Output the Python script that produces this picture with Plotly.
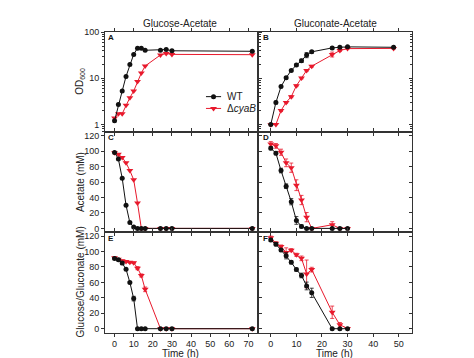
import plotly.graph_objects as go

# ---------------- data ----------------
t_glc = [0, 2, 4, 6, 8, 10, 12, 14, 16, 24, 27, 30, 72]
od_glc_wt = [1.2, 2.7, 5.3, 11, 20, 33, 45, 45, 40.5, 40.5, 42, 39.5, 38.5]
od_glc_cya = [1.38, 1.71, 1.71, 2.6, 3.8, 5.3, 8.5, 13, 18.5, 32, 34.5, 33, 32.5]
ac_glc_wt = [98.5, 90, 65, 30, 7.5, 1.8, 0, 0, 0, 0, 0, 0, 0]
ac_glc_cya = [98, 96, 92, 85, 75, 63, 33, 0, 0, 0, 0, 0, 0]
glc_wt = [91, 89.5, 85, 77, 60, 39, 0, 0, 0, 0, 0, 0, 0]
glc_wt_err = [1, 1, 2, 1, 1, 3, 0, 0, 0, 0, 0, 0, 0]
glc_cya = [92, 90, 88, 87, 86, 85.5, 78.5, 69, 51, 0, 0, 0, 0]
glc_cya_err = [1, 1, 1, 1, 1, 1, 2, 2, 3, 0, 0, 0, 0]

t_gcn = [0, 2, 4, 6, 8, 10, 12, 14, 16, 24, 27, 30, 48]
od_gcn_wt = [1.0, 3.0, 6.6, 10.3, 14.8, 19.4, 24, 32, 37.5, 45.6, 47, 48, 47]
od_gcn_wt_err = [0, 0.2, 0.3, 0.5, 0.6, 1, 2, 4, 2, 2, 1, 1, 1]
od_gcn_cya = [0.98, 1.0, 2.0, 3.0, 4.0, 6.9, 10.1, 14.8, 18.3, 33, 40, 44, 44.5]
od_gcn_cya_err = [0, 0, 0.1, 0.1, 0.2, 0.3, 0.4, 0.6, 0.8, 4, 2, 1, 1]

t_gcn2 = [0, 2, 4, 6, 8, 10, 12, 14, 16, 24, 27, 30]
ac_gcn_wt = [104, 97.5, 75, 54.7, 34.6, 10.3, 2.6, 0, 0, 0, 0, 0]
ac_gcn_wt_err = [2, 2, 3, 3, 4, 5, 2, 0, 0, 0, 0, 0]
ac_gcn_cya = [109.5, 107, 98.7, 85, 78.7, 56, 36.8, 14.6, 0, 4.7, 0, 0]
ac_gcn_cya_err = [3, 3, 4, 5, 6, 7, 6, 6, 0, 4, 0, 0]
gcn_wt = [115, 109.5, 102, 94.5, 86, 76.6, 69, 55.4, 46.5, 0, 0, 0]
gcn_wt_err = [2, 2, 2, 4, 2, 2, 3, 5, 6, 0, 0, 0]
gcn_cya = [118, 110.7, 106.5, 98.8, 101.8, 95.8, 91.2, 71, 76.6, 21.3, 5, 0.4]
gcn_cya_err = [2, 2, 2, 6, 2, 2, 3, 18, 3, 8, 3, 0]

titles = ["Glucose-Acetate", "Gluconate-Acetate"]
ytitles = ["OD<sub>600</sub>", "Acetate (mM)", "Glucose/Gluconate (mM)"]
panel_letters = ["A", "B", "C", "D", "E", "F"]
legend_names = ["WT", "Δ<i>cyaB</i>"]
lin_ticks = [0, 20, 40, 60, 80, 100, 120]

BLACK = "#111111"
RED = "#e8192c"
FONT = "Liberation Sans, Arial, sans-serif"
W, H = 474, 358

fig = go.Figure()


def add(xs, ys, err, n, color, symbol, size):
    ax = "" if n == 1 else str(n)
    eb = None
    if err is not None:
        eb = dict(type="data", array=err, visible=True, color=color,
                  thickness=0.8, width=2)
    fig.add_trace(go.Scatter(
        x=xs, y=ys, mode="lines+markers", showlegend=False,
        line=dict(color=color, width=1),
        marker=dict(color=color, symbol=symbol, size=size),
        error_y=eb, xaxis="x" + ax, yaxis="y" + ax))


add(t_glc, od_glc_cya, None, 1, RED, "triangle-down", 6)
add(t_glc, od_glc_wt, None, 1, BLACK, "circle", 5)
add(t_gcn, od_gcn_cya, od_gcn_cya_err, 2, RED, "triangle-down", 6)
add(t_gcn, od_gcn_wt, od_gcn_wt_err, 2, BLACK, "circle", 5)
add(t_glc, ac_glc_cya, None, 3, RED, "triangle-down", 6)
add(t_glc, ac_glc_wt, None, 3, BLACK, "circle", 5)
add(t_gcn2, ac_gcn_cya, ac_gcn_cya_err, 4, RED, "triangle-down", 6)
add(t_gcn2, ac_gcn_wt, ac_gcn_wt_err, 4, BLACK, "circle", 5)
add(t_glc, glc_cya, glc_cya_err, 5, RED, "triangle-down", 6)
add(t_glc, glc_wt, glc_wt_err, 5, BLACK, "circle", 5)
add(t_gcn2, gcn_cya, gcn_cya_err, 6, RED, "triangle-down", 6)
add(t_gcn2, gcn_wt, gcn_wt_err, 6, BLACK, "circle", 5)

# compact in-panel legend (panel A data coordinates)
leg_x = [47.8, 55.7]
leg_y = [4.0, 2.22]
leg_col = [BLACK, RED]
leg_sym = ["circle", "triangle-down"]
leg_size = [5, 6]
for i in range(2):
    fig.add_trace(go.Scatter(x=leg_x, y=[leg_y[i], leg_y[i]], mode="lines",
                             line=dict(color=leg_col[i], width=1), showlegend=False,
                             hoverinfo="skip", xaxis="x", yaxis="y"))
    fig.add_trace(go.Scatter(x=[(leg_x[0] + leg_x[1]) / 2], y=[leg_y[i]],
                             mode="markers",
                             marker=dict(color=leg_col[i], symbol=leg_sym[i],
                                         size=leg_size[i]),
                             showlegend=False, hoverinfo="skip",
                             xaxis="x", yaxis="y"))

xdom = [[97 / W, 250 / W], [250 / W, 403.5 / W]]
ydom = [[1 - 121 / H, 1 - 19.5 / H], [1 - 223 / H, 1 - 121 / H],
        [1 - 325 / H, 1 - 223 / H]]

layout = dict(width=W, height=H, margin=dict(l=0, r=0, t=0, b=0),
              paper_bgcolor="white", plot_bgcolor="white",
              font=dict(family=FONT, size=9, color="#222"),
              showlegend=False)

axis_common = dict(showline=True, linecolor="#333", linewidth=1, mirror="ticks",
                   showgrid=False, zeroline=False, ticklen=3, tickwidth=1,
                   tickcolor="#333")

for row in range(3):
    for col in range(2):
        n = row * 2 + col + 1
        sfx = "" if n == 1 else str(n)
        xa = dict(axis_common, domain=xdom[col], anchor="y" + sfx,
                  ticks="outside",
                  range=[-5, 75] if col == 0 else [-5, 55],
                  tickvals=list(range(0, 71, 10)) if col == 0 else list(range(0, 51, 10)),
                  showticklabels=(row == 2))
        ya = dict(axis_common, domain=ydom[row], anchor="x" + sfx,
                  ticks="outside" if col == 0 else "inside",
                  showticklabels=(col == 0))
        if row == 0:
            ya.update(type="log", range=[-0.164, 2], tickvals=[1, 10, 100],
                      ticktext=["1", "10", "100"],
                      minor=dict(ticks="outside" if col == 0 else "inside",
                                 ticklen=2, dtick="D1", tickcolor="#333"))
        else:
            ya.update(range=[-5, 125], tickvals=lin_ticks)
        layout["xaxis" + sfx] = xa
        layout["yaxis" + sfx] = ya

fig.update_layout(**layout)


def note(text, px, py, size=10, angle=0, xanchor="center", color="#222"):
    return dict(text=text, x=px / W, y=1 - py / H, xref="paper", yref="paper",
                showarrow=False, textangle=angle, xanchor=xanchor, yanchor="middle",
                font=dict(size=size, color=color, family=FONT))


ann = [note(titles[0], 172, 11), note(titles[1], 327, 11)]
ycent = [70, 172, 274]
for i, t in enumerate(ytitles):
    ann.append(note(t, 72, ycent[i], angle=-90))
for cx in [172, 326]:
    ann.append(note("Time (h)", cx, 346))
letter_pos = [(103, 25), (258, 25), (103, 127), (258, 127), (103, 229), (257, 229)]
for L, (px, py) in zip(panel_letters, letter_pos):
    ann.append(note("<b>" + L + "</b>", px, py, size=8, color="#111"))
leg_text_py = [85, 97]
for i in range(2):
    ann.append(note(legend_names[i], 217, leg_text_py[i], size=10, xanchor="left"))
fig.update_layout(annotations=ann)

fig.write_html("out.html")
